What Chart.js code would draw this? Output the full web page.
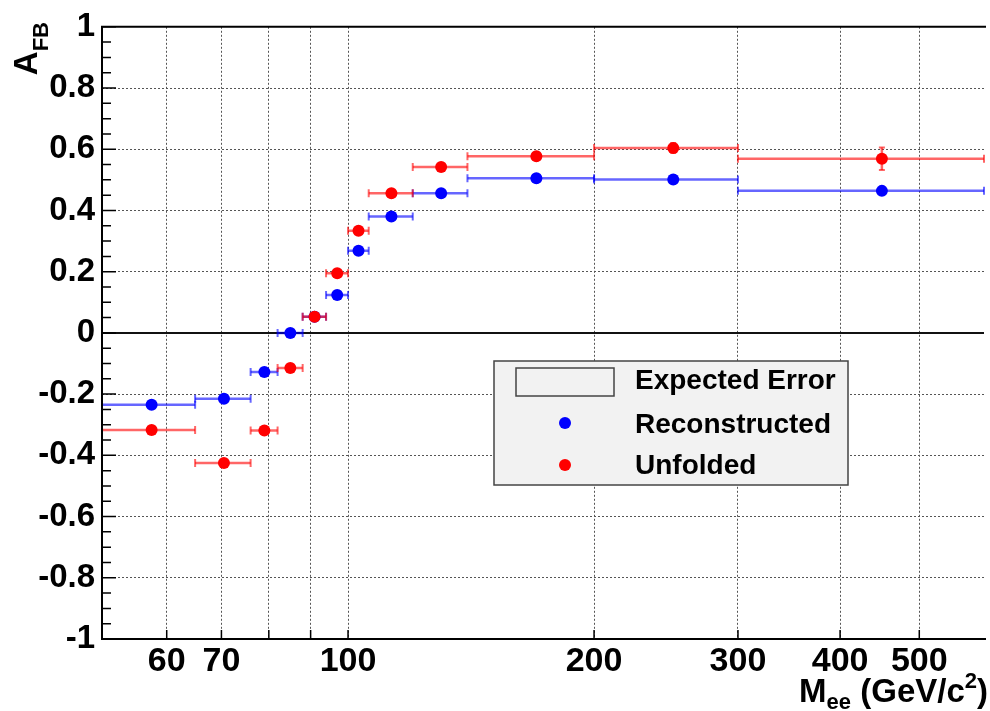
<!DOCTYPE html>
<html>
<head>
<meta charset="utf-8">
<script src="https://cdn.jsdelivr.net/npm/chart.js@4.4.1/dist/chart.umd.min.js"></script>
<style>
  html, body { margin: 0; padding: 0; background: #fff; }
</style>
</head>
<body>
<canvas id="afb" width="990" height="711"></canvas>
<script>
// M_ee bins (GeV/c^2) and measured A_FB
const binEdges = [50, 65, 76, 82, 88, 94, 100, 106, 120, 140, 200, 300, 600];
const binCenters = [57.5, 70.5, 79, 85, 91, 97, 103, 113, 130, 170, 250, 450];
const recoValues = [-0.235, -0.215, -0.128, 0.0, 0.053, 0.124, 0.268, 0.38, 0.456, 0.505, 0.501, 0.464];
const recoErrors = [0.008, 0.008, 0.008, 0.008, 0.008, 0.008, 0.008, 0.008, 0.008, 0.008, 0.01, 0.012];
const unfoldValues = [-0.317, -0.425, -0.319, -0.115, 0.053, 0.195, 0.334, 0.456, 0.542, 0.577, 0.604, 0.569];
const unfoldErrors = [0.01, 0.01, 0.01, 0.01, 0.01, 0.01, 0.01, 0.01, 0.01, 0.012, 0.016, 0.037];

const xTickValues = [60, 70, 80, 90, 100, 200, 300, 400, 500];
const xTickLabels = ['60', '70', '', '', '100', '200', '300', '400', '500'];
const yTickValues = [-1, -0.8, -0.6, -0.4, -0.2, 0, 0.2, 0.4, 0.6, 0.8, 1];
const yTickLabels = ['-1', '-0.8', '-0.6', '-0.4', '-0.2', '0', '0.2', '0.4', '0.6', '0.8', '1'];
const legendLabels = ['Expected Error', 'Reconstructed', 'Unfolded'];

const FONT = "'Liberation Sans', Arial, sans-serif";

// ROOT style frame, error bars, titles and legend
const rootStyle = {
    id: 'rootStyle',
    beforeDatasetsDraw(chart) {
        const ctx = chart.ctx;
        const xs = chart.scales.x, ys = chart.scales.y;
        const area = chart.chartArea;
        ctx.save();
        // solid zero line
        ctx.strokeStyle = '#111';
        ctx.lineWidth = 2;
        ctx.beginPath();
        ctx.moveTo(area.left, ys.getPixelForValue(0));
        ctx.lineTo(area.right, ys.getPixelForValue(0));
        ctx.stroke();

        const drawBars = (vals, errs, color) => {
            ctx.strokeStyle = color;
            for (let i = 0; i < vals.length; i++) {
                const x1 = xs.getPixelForValue(binEdges[i]);
                const x2 = xs.getPixelForValue(binEdges[i + 1]);
                const xc = xs.getPixelForValue(binCenters[i]);
                const y = ys.getPixelForValue(vals[i]);
                const yl = ys.getPixelForValue(vals[i] - errs[i]);
                const yh = ys.getPixelForValue(vals[i] + errs[i]);
                ctx.lineWidth = 2.5;
                ctx.beginPath();
                ctx.moveTo(x1, y); ctx.lineTo(x2, y);
                ctx.moveTo(xc, yl); ctx.lineTo(xc, yh);
                ctx.stroke();
                ctx.lineWidth = 2;
                ctx.beginPath();
                ctx.moveTo(x1, y - 4); ctx.lineTo(x1, y + 4);
                ctx.moveTo(x2, y - 4); ctx.lineTo(x2, y + 4);
                ctx.moveTo(xc - 3, yl); ctx.lineTo(xc + 3, yl);
                ctx.moveTo(xc - 3, yh); ctx.lineTo(xc + 3, yh);
                ctx.stroke();
            }
        };
        drawBars(recoValues, recoErrors, 'rgba(0, 0, 255, 0.6)');
        drawBars(unfoldValues, unfoldErrors, 'rgba(255, 0, 0, 0.6)');
        ctx.restore();
    },
    afterDraw(chart) {
        const ctx = chart.ctx;
        const xs = chart.scales.x, ys = chart.scales.y;
        const area = chart.chartArea;
        ctx.save();
        ctx.strokeStyle = '#000';
        ctx.lineWidth = 2;
        // frame
        ctx.beginPath();
        ctx.moveTo(area.right + 2, area.top); ctx.lineTo(area.left, area.top);
        ctx.lineTo(area.left, area.bottom); ctx.lineTo(area.right + 2, area.bottom);
        ctx.stroke();
        // y tick marks (major 0.2, minor 0.05)
        ctx.lineWidth = 1.5;
        ctx.beginPath();
        for (let k = -20; k <= 20; k++) {
            const v = k * 0.05;
            const y = ys.getPixelForValue(v);
            const len = (k % 4 === 0) ? 14 : 9;
            ctx.moveTo(area.left, y); ctx.lineTo(area.left + len, y);
        }
        // x tick marks
        xTickValues.forEach(v => {
            const x = xs.getPixelForValue(v);
            ctx.moveTo(x, area.bottom); ctx.lineTo(x, area.bottom - 9);
        });
        ctx.stroke();

        // axis titles
        ctx.fillStyle = '#000';
        ctx.textAlign = 'left';
        ctx.textBaseline = 'alphabetic';
        // x title, right aligned at the frame end
        const big = 'bold 33px ' + FONT, small = 'bold 22px ' + FONT;
        const parts = [
            ['M', big, 0], ['ee', small, 7], [' (GeV/c', big, 0], ['2', small, -14], [')', big, 0]
        ];
        let w = 0;
        parts.forEach(p => { ctx.font = p[1]; w += ctx.measureText(p[0]).width; });
        let x = 988 - w;
        parts.forEach(p => {
            ctx.font = p[1];
            ctx.fillText(p[0], x, 702 + p[2]);
            x += ctx.measureText(p[0]).width;
        });
        // y title, rotated, ending at the top of the axis
        ctx.save();
        ctx.translate(37, 22);
        ctx.rotate(-Math.PI / 2);
        ctx.font = small;
        const wFB = ctx.measureText('FB').width;
        ctx.font = big;
        const wA = ctx.measureText('A').width;
        ctx.fillText('A', -wFB - wA, 0);
        ctx.font = small;
        ctx.fillText('FB', -wFB, 11);
        ctx.restore();

        // legend
        ctx.fillStyle = '#f2f2f2';
        ctx.fillRect(494, 361, 354, 124);
        ctx.strokeStyle = '#444';
        ctx.lineWidth = 1.5;
        ctx.strokeRect(494, 361, 354, 124);
        ctx.strokeRect(516, 368, 98, 28);
        ctx.fillStyle = '#0000ff';
        ctx.beginPath(); ctx.arc(565, 423, 6, 0, Math.PI * 2); ctx.fill();
        ctx.fillStyle = '#ff0000';
        ctx.beginPath(); ctx.arc(565, 465, 6, 0, Math.PI * 2); ctx.fill();
        ctx.fillStyle = '#000';
        ctx.font = 'bold 28px ' + FONT;
        ctx.fillText(legendLabels[0], 635, 389);
        ctx.fillText(legendLabels[1], 635, 433);
        ctx.fillText(legendLabels[2], 635, 474);
        ctx.restore();
    }
};

const ctx = document.getElementById('afb').getContext('2d');
const chart = new Chart(ctx, {
    type: 'scatter',
    data: {
        datasets: [{
            label: legendLabels[2],
            data: binCenters.map((x, i) => ({ x: x, y: unfoldValues[i] })),
            backgroundColor: '#ff0000',
            borderColor: '#ff0000',
            borderWidth: 0,
            pointRadius: 6,
            pointHoverRadius: 6,
            order: 1
        }, {
            label: legendLabels[1],
            data: binCenters.map((x, i) => ({ x: x, y: recoValues[i] })),
            backgroundColor: '#0000ff',
            borderColor: '#0000ff',
            borderWidth: 0,
            pointRadius: 6,
            pointHoverRadius: 6,
            order: 2
        }]
    },
    options: {
        responsive: false,
        animation: false,
        devicePixelRatio: 1,
        layout: { padding: { top: 20, right: 2, left: 0, bottom: 0 } },
        plugins: {
            legend: { display: false },
            tooltip: { enabled: false }
        },
        scales: {
            x: {
                type: 'logarithmic',
                position: 'bottom',
                min: 50,
                max: 600,
                afterBuildTicks: (s) => { s.ticks = xTickValues.map(v => ({ value: v })); },
                afterFit: (s) => { s.height = 72; },
                ticks: {
                    autoSkip: false,
                    maxRotation: 0,
                    padding: 2,
                    color: '#000',
                    font: { family: FONT, size: 34, weight: 'bold' },
                    callback: (v, i) => xTickLabels[i]
                },
                grid: { color: '#555', lineWidth: 1, drawTicks: false },
                border: { display: false, dash: [2, 2] }
            },
            y: {
                type: 'linear',
                min: -1,
                max: 1,
                afterBuildTicks: (s) => { s.ticks = yTickValues.map(v => ({ value: v })); },
                afterFit: (s) => { s.width = 102; },
                ticks: {
                    padding: 7,
                    color: '#000',
                    font: { family: FONT, size: 33, weight: 'bold' },
                    callback: (v, i) => yTickLabels[i]
                },
                grid: { color: '#555', lineWidth: 1, drawTicks: false },
                border: { display: false, dash: [2, 2] }
            }
        }
    },
    plugins: [rootStyle]
});
</script>
</body>
</html>
